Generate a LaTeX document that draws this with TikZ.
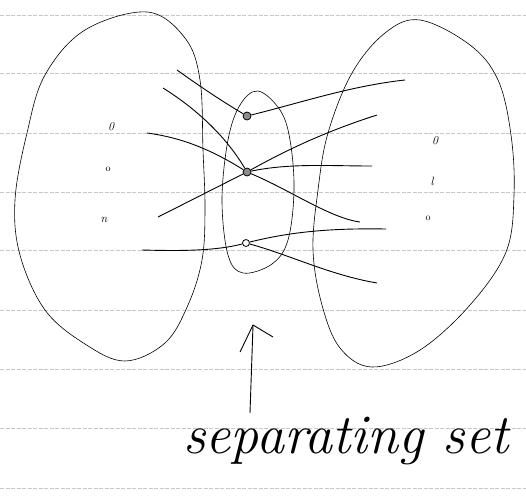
\documentclass[tikz,border=0pt]{standalone}
\usetikzlibrary{arrows.meta}
\begin{document}
\begin{tikzpicture}[x=1pt,y=-1pt,
  paper/.style={draw=black!22, line width=0.4pt, dash pattern=on 4pt off 1.5pt},
  blob/.style={draw=black, line width=0.6pt},
  edge/.style={draw=black, line width=0.9pt},
  sep/.style={circle, draw=black, line width=0.8pt, inner sep=0pt, minimum size=8pt},
  sepfill/.style={sep, fill=black!45},
  dot/.style={inner sep=0pt, font=\itshape\large}]
\useasboundingbox (0,0) rectangle (526,496);
\fill[white] (0,0) rectangle (526,496);
% ruled lines
\foreach \yy in {15,73,133,192,250,310,369,428,488}
  \draw[paper] (0,\yy) -- (526,\yy);
% left blob
\draw[blob] plot[smooth cycle, tension=0.6] coordinates {
  (147,12) (185,38) (200,80) (203,150) (205,210) (202,260) (188,305)
  (165,343) (125,361) (85,344) (45,310) (20,255) (15,200) (27,133)
  (45,75) (85,30)};
% right blob
\draw[blob] plot[smooth cycle, tension=0.6] coordinates {
  (420,20) (470,45) (498,80) (511,135) (514,195) (506,252) (470,305)
  (420,350) (372,367) (340,348) (322,305) (313,250) (318,190) (328,133)
  (352,73) (385,33)};
% middle oval
\draw[blob] plot[smooth cycle, tension=0.6] coordinates {
  (258,91) (280,110) (290,140) (294,190) (288,240) (272,264) (243,273)
  (228,255) (222,200) (228,140) (240,105)};
% separator vertices
\node[sepfill] (s1) at (247,116) {};
\node[sepfill] (s2) at (247,172) {};
\node[sep, minimum size=7pt] (s3) at (246,243) {};
% vertices inside the sides
\node[dot] (a1) at (111,127) {0};
\node[dot, font=\normalsize] (a2) at (108,169) {o};
\node[dot] (a3) at (104,220) {n};
\node[dot] (b1) at (435,141) {0};
\node[dot] (b2) at (432,181) {l};
\node[dot, font=\normalsize] (b3) at (428,218) {o};
% free ends
\coordinate (l1) at (177,70);
\coordinate (l2) at (163,88);
\coordinate (l3) at (147,133);
\coordinate (l4) at (158,217);
\coordinate (l5) at (142,250);
\coordinate (r1) at (405,80);
\coordinate (r2) at (377,115);
\coordinate (r3) at (372,166);
\coordinate (r4) at (360,222);
\coordinate (r5) at (386,229);
\coordinate (r6) at (377,283);
% edges
\draw[edge] (l1) .. controls (205,90) and (225,103) .. (s1);
\draw[edge] (s1) .. controls (300,103) and (350,86) .. (r1);
\draw[edge] (l2) .. controls (195,108) and (225,135) .. (s2);
\draw[edge] (l3) .. controls (185,138) and (215,152) .. (s2);
\draw[edge] (l4) -- (s2);
\draw[edge] (s2) .. controls (290,148) and (330,130) .. (r2);
\draw[edge] (s2) .. controls (290,163) and (330,166) .. (r3);
\draw[edge] (s2) .. controls (290,190) and (330,218) .. (r4);
\draw[edge] (l5) .. controls (180,251) and (215,251) .. (s3);
\draw[edge] (s3) .. controls (290,232) and (330,228) .. (r5);
\draw[edge] (s3) .. controls (290,255) and (330,275) .. (r6);
% arrow and label
\node[font=\fontsize{56}{64}\selectfont\itshape, anchor=base] (lab) at (346,453) {separating set};
\coordinate (tip) at (253,325);
\draw[edge] (250,413) -- (tip);
\draw[edge] (240,352) -- (tip) -- (273,337);
\end{tikzpicture}
\end{document}
